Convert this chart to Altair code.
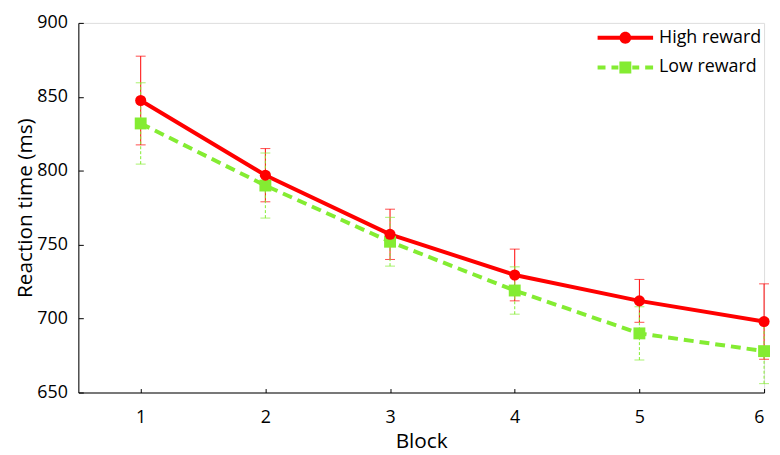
import altair as alt
import pandas as pd

blocks = [1, 2, 3, 4, 5, 6]
high_mean = [847.5, 797, 757, 729.5, 712, 698]
high_err = [30, 18, 17, 17.5, 14.5, 25.5]
low_mean = [832, 790, 752, 719, 690, 678]
low_err = [27.5, 22, 16.5, 16, 18, 22]
series = ["High reward", "Low reward"]
colors = ["#FF0000", "#84EC32"]

rows = []
for b, m, e in zip(blocks, high_mean, high_err):
    rows.append({"block": b, "rt": m, "lo": m - e, "hi": m + e, "cond": series[0]})
for b, m, e in zip(blocks, low_mean, low_err):
    rows.append({"block": b, "rt": m, "lo": m - e, "hi": m + e, "cond": series[1]})
df = pd.DataFrame(rows)

FONT = "Open Sans"

x = alt.X("block:Q", scale=alt.Scale(domain=[0.5, 6], nice=False, zero=False),
          axis=alt.Axis(title="Block", values=blocks, format="d", grid=False,
                        tickSize={"expr": "-4"}, tickColor="#000", domainColor="#000",
                        labelFontSize=18, titleFontSize=21, labelPadding=20,
                        titlePadding=4, labelFont=FONT, titleFont=FONT,
                        titleFontWeight="normal", labelColor="#000", titleColor="#000"))
y = alt.Y("rt:Q", scale=alt.Scale(domain=[650, 900], nice=False, zero=False),
          axis=alt.Axis(title="Reaction time (ms)", values=[650, 700, 750, 800, 850, 900],
                        grid=False, tickSize={"expr": "-5"}, tickColor="#000", domainColor="#000",
                        labelFontSize=18, titleFontSize=21, labelPadding=16,
                        titlePadding=1, labelFont=FONT, titleFont=FONT,
                        titleFontWeight="normal", labelColor="#000", titleColor="#000"))

base = alt.Chart(df)
high = base.transform_filter(alt.datum.cond == series[0])
low = base.transform_filter(alt.datum.cond == series[1])

err_high = high.mark_rule(color=colors[0], strokeWidth=1).encode(x=x, y="lo:Q", y2="hi:Q")
cap_high_top = high.mark_tick(color=colors[0], orient="horizontal", size=10, thickness=1).encode(x=x, y="hi:Q")
cap_high_bot = high.mark_tick(color=colors[0], orient="horizontal", size=10, thickness=1).encode(x=x, y="lo:Q")

err_low = low.mark_rule(color=colors[1], strokeWidth=1, strokeDash=[3, 2]).encode(x=x, y="lo:Q", y2="hi:Q")
cap_low_top = low.mark_tick(color=colors[1], orient="horizontal", size=10, thickness=1).encode(x=x, y="hi:Q")
cap_low_bot = low.mark_tick(color=colors[1], orient="horizontal", size=10, thickness=1).encode(x=x, y="lo:Q")

line_low = low.mark_line(color=colors[1], strokeWidth=4, strokeDash=[10, 6]).encode(x=x, y=y)
line_high = high.mark_line(color=colors[0], strokeWidth=4).encode(x=x, y=y)
pts_low = low.mark_point(color=colors[1], shape="square", size=144, filled=True, opacity=1).encode(x=x, y=y)
pts_high = high.mark_point(color=colors[0], shape="circle", size=125, filled=True, opacity=1).encode(x=x, y=y)

# legend glyphs: line + marker as filled paths; one unit = 14 px (symbolSize 784)
sym_high = ("M-2,-0.143H2V0.143H-2Z"
            "M-0.43,0A0.43,0.43 0 1,1 0.43,0A0.43,0.43 0 1,1 -0.43,0Z")
sym_low = ("M-2,-0.143H-1.43V0.143H-2Z"
           "M-1,-0.143H-0.5V0.143H-1Z"
           "M-0.43,-0.43H0.43V0.43H-0.43Z"
           "M0.5,-0.143H1V0.143H0.5Z"
           "M1.43,-0.143H2V0.143H1.43Z")

legend = alt.Legend(
    title=None, orient="none", legendX=538, legendY=1,
    labelFontSize=18, labelFont=FONT, labelColor="#000",
    symbolSize=784, symbolOpacity=1, symbolStrokeWidth=0,
    rowPadding=7, labelOffset=20)

legend_layer = base.mark_point(filled=True, opacity=0).encode(
    x=x, y=y,
    color=alt.Color("cond:N", scale=alt.Scale(domain=series, range=colors), legend=legend),
    shape=alt.Shape("cond:N", scale=alt.Scale(domain=series, range=[sym_high, sym_low]), legend=legend),
)

chart = alt.layer(
    err_high, cap_high_top, cap_high_bot,
    err_low, cap_low_top, cap_low_bot,
    line_low, line_high, pts_low, pts_high, legend_layer,
).properties(
    width=692, height=373,
    autosize=alt.AutoSizeParams(type="none"),
    padding={"left": 71, "top": 13, "right": 8, "bottom": 60},
).configure_view(stroke=None).configure(background="white")

chart.save("out.html", embed_options={"renderer": "svg", "actions": False})
